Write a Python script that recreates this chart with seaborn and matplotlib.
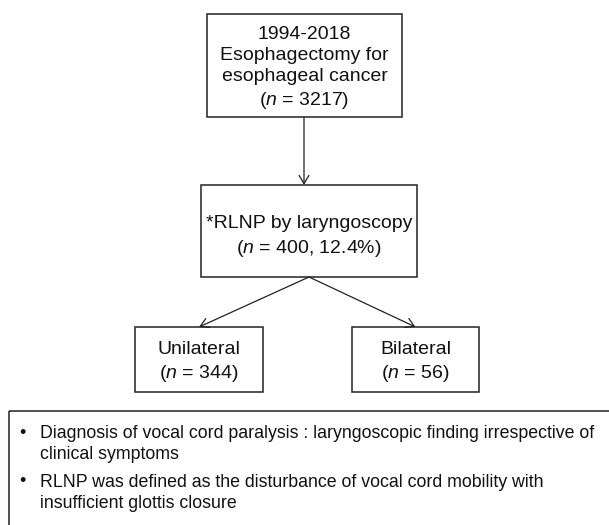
#!/usr/bin/env python3

import matplotlib
matplotlib.use("Agg")
import matplotlib.pyplot as plt
from matplotlib.patches import Rectangle, FancyArrowPatch
import seaborn as sns

# flowchart content
period = "1994-2018"
cohort_label = ["Esophagectomy for", "esophageal cancer"]
n_total = 3217
rlnp_label = "*RLNP by laryngoscopy"
n_rlnp = 400
pct_rlnp = 12.4
branch_labels = ["Unilateral", "Bilateral"]
branch_n = [344, 56]
notes = [
    ["Diagnosis of vocal cord paralysis : laryngoscopic finding irrespective of",
     "clinical symptoms"],
    ["RLNP was defined as the disturbance of vocal cord mobility with",
     "insufficient glottis closure"],
]

sns.set_style("white")
plt.rcParams["font.family"] = ["Liberation Sans", "DejaVu Sans"]
plt.rcParams["mathtext.fontset"] = "custom"
plt.rcParams["mathtext.rm"] = "Liberation Sans"
plt.rcParams["mathtext.it"] = "Liberation Sans:italic"

W, H = 609, 525
fig = plt.figure(figsize=(W / 100, H / 100), dpi=100)
ax = fig.add_axes([0, 0, 1, 1])
ax.set_xlim(0, W)
ax.set_ylim(H, 0)
ax.axis("off")

fs = 14
fs_note = 12.8
lw = 1.1
ink = "#111111"


def box(x0, y0, x1, y1, text, dy=0, ls=1.33):
    ax.add_patch(Rectangle((x0, y0), x1 - x0, y1 - y0, fill=False,
                           edgecolor="#222222", lw=lw))
    ax.text((x0 + x1) / 2, (y0 + y1) / 2 + dy, text, ha="center", va="center",
            fontsize=fs, linespacing=ls, color=ink)


def arrow(p0, p1):
    ax.add_patch(FancyArrowPatch(p0, p1, arrowstyle="->,head_length=6,head_width=3.5",
                                 color="#222222", lw=0.9, shrinkA=0, shrinkB=0,
                                 mutation_scale=1))


def ntext(n, extra=""):
    return "($n$ = " + f"{n}" + extra + ")"


box(207, 14, 402, 117,
    period + "\n" + "\n".join(cohort_label) + "\n" + ntext(n_total), dy=3)
box(201, 185, 417, 277,
    rlnp_label + "\n" + ntext(n_rlnp, f", {pct_rlnp}%"), dy=6, ls=1.38)

branch_boxes = [(135, 327, 263, 392), (352, 327, 479, 392)]
for (x0, y0, x1, y1), lab, n in zip(branch_boxes, branch_labels, branch_n):
    box(x0, y0, x1, y1, lab + "\n" + ntext(n), dy=3)
    arrow((309, 277), ((x0 + x1) / 2, y0))

arrow((304, 117), (304, 185))

# notes panel, runs off the page at right and bottom
ax.add_patch(Rectangle((9, 411), 700, 200, fill=False, edgecolor="#222222",
                       lw=lw, clip_on=True))
base = 438
for note in notes:
    ax.text(22, base - 5, "•", ha="center", va="center", fontsize=13, color=ink)
    for k, line in enumerate(note):
        ax.text(40, base + 21 * k, line, ha="left", va="baseline",
                fontsize=fs_note, color=ink)
    base += 49

fig.savefig("out.png", dpi=100)
